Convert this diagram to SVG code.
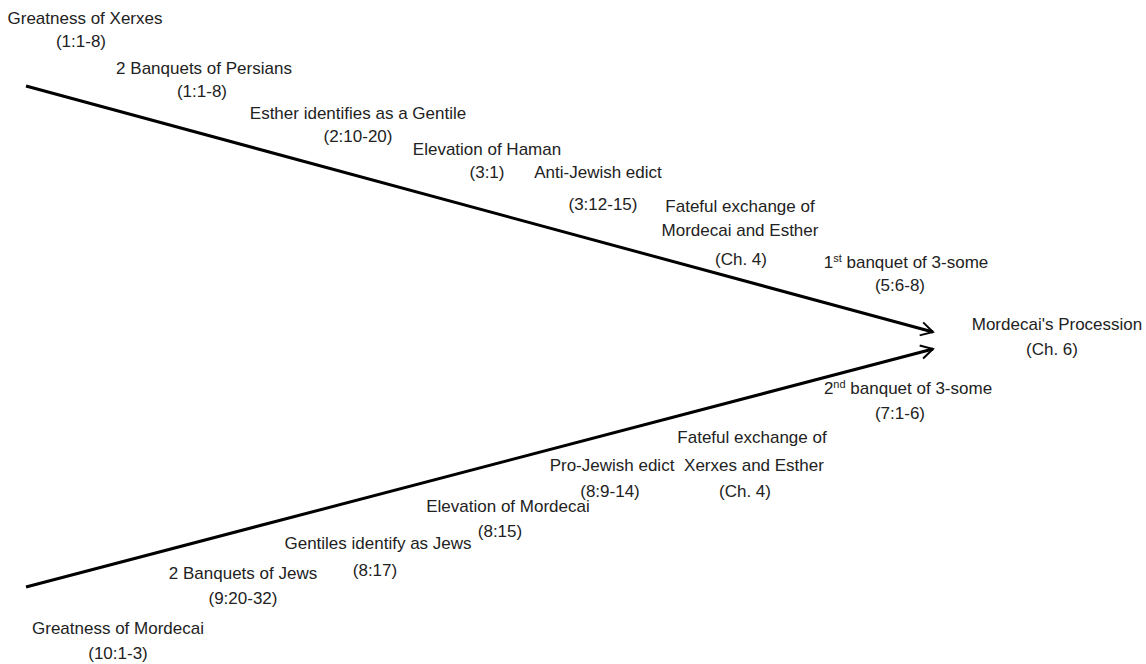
<svg xmlns="http://www.w3.org/2000/svg" width="1146" height="664" viewBox="0 0 1146 664">
<style>
text{font-family:"Liberation Sans",Arial,sans-serif;font-size:17px;fill:#222;text-anchor:middle}
.line{stroke:#000;stroke-width:3;fill:none;marker-end:url(#arr)}
</style>
<defs>
<marker id="arr" viewBox="0 0 12 12" refX="10" refY="6" markerWidth="6" markerHeight="6" orient="auto" markerUnits="strokeWidth">
<polyline points="2,1.5 10,6 2,10.5" fill="none" stroke="#000" stroke-width="1.3"/>
</marker>
</defs>
<rect width="1146" height="664" fill="#fff"/>
<g id="connectors">
<line class="line" x1="26" y1="86" x2="933" y2="332"/>
<line class="line" x1="26" y1="587" x2="933" y2="349"/>
</g>
<g id="n1"><text x="85" y="24">Greatness of Xerxes</text><text x="81" y="47">(1:1-8)</text></g>
<g id="n2"><text x="204" y="74">2 Banquets of Persians</text><text x="202" y="97">(1:1-8)</text></g>
<g id="n3"><text x="358" y="119">Esther identifies as a Gentile</text><text x="358" y="142">(2:10-20)</text></g>
<g id="n4"><text x="487" y="155">Elevation of Haman</text><text x="487" y="178">(3:1)</text></g>
<g id="n5"><text x="598" y="178">Anti-Jewish edict</text><text x="603" y="210">(3:12-15)</text></g>
<g id="n6"><text x="740" y="212">Fateful exchange of</text><text x="740" y="236">Mordecai and Esther</text><text x="741" y="265">(Ch. 4)</text></g>
<g id="n7"><text x="906" y="268">1<tspan font-size="11" dy="-6">st</tspan><tspan dy="6"> banquet of 3-some</tspan></text><text x="900" y="291">(5:6-8)</text></g>
<g id="n8"><text x="1057" y="330">Mordecai's Procession</text><text x="1052" y="355">(Ch. 6)</text></g>
<g id="n9"><text x="908" y="394">2<tspan font-size="11" dy="-6">nd</tspan><tspan dy="6"> banquet of 3-some</tspan></text><text x="900" y="419">(7:1-6)</text></g>
<g id="n10"><text x="752" y="443">Fateful exchange of</text><text x="754" y="471">Xerxes and Esther</text><text x="745" y="497">(Ch. 4)</text></g>
<g id="n11"><text x="612" y="471">Pro-Jewish edict</text><text x="610" y="497">(8:9-14)</text></g>
<g id="n12"><text x="508" y="512">Elevation of Mordecai</text><text x="500" y="537">(8:15)</text></g>
<g id="n13"><text x="378" y="549">Gentiles identify as Jews</text><text x="375" y="576">(8:17)</text></g>
<g id="n14"><text x="243" y="579">2 Banquets of Jews</text><text x="243" y="604">(9:20-32)</text></g>
<g id="n15"><text x="118" y="634">Greatness of Mordecai</text><text x="118" y="659">(10:1-3)</text></g>
</svg>
